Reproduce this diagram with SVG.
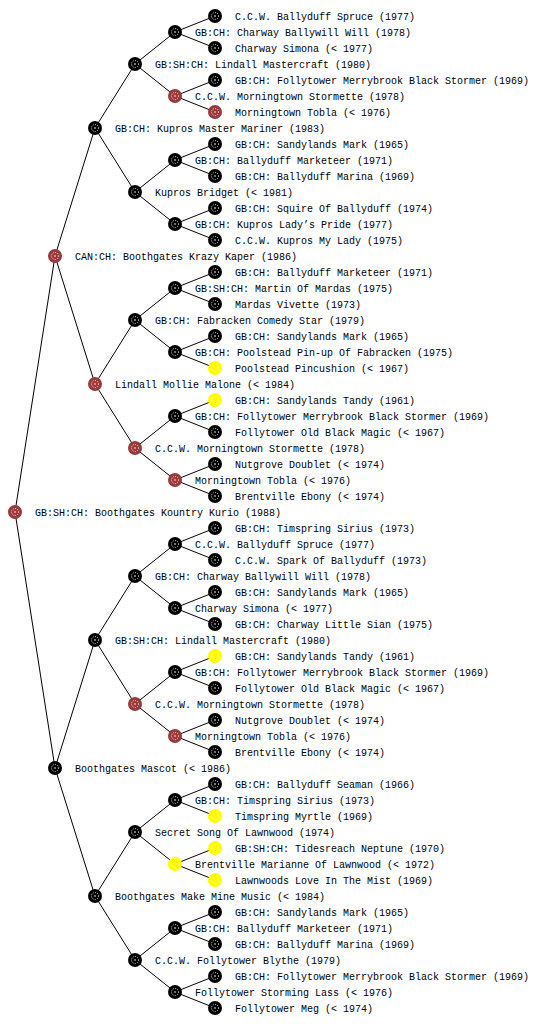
<svg xmlns="http://www.w3.org/2000/svg" xmlns:xlink="http://www.w3.org/1999/xlink" width="560" height="1024" viewBox="0 0 560 1024">
<style>
text{font-family:"Liberation Mono","DejaVu Sans Mono",monospace;font-size:10px;fill:#000}
.e{fill:none;stroke:#000;stroke-width:1}
.ring{fill:none;stroke:#fff;stroke-width:1;stroke-dasharray:1 1.3;opacity:.85}
.ringy{fill:none;stroke:#fff;stroke-width:1;stroke-dasharray:1 1.3;opacity:.6}
</style>
<defs>
<g id="nk"><circle r="7" fill="#000"/><circle r="3.5" class="ring"/><circle r="0.8" fill="#fff"/></g>
<g id="nr"><circle r="7" fill="#9a3a3a"/><circle r="3.5" class="ring"/><circle r="0.8" fill="#fff"/></g>
<g id="ny"><circle r="7" fill="#ffff00"/><circle r="3.5" class="ringy"/></g>
</defs>
<rect width="560" height="1024" fill="#fff"/>
<g id="connectors">
<path class="e" d="M55 256L15 512L55 768"/>
<path class="e" d="M95 128L55 256L95 384"/>
<path class="e" d="M95 640L55 768L95 896"/>
<path class="e" d="M135 64L95 128L135 192"/>
<path class="e" d="M135 320L95 384L135 448"/>
<path class="e" d="M135 576L95 640L135 704"/>
<path class="e" d="M135 832L95 896L135 960"/>
<path class="e" d="M175 32L135 64L175 96"/>
<path class="e" d="M175 160L135 192L175 224"/>
<path class="e" d="M175 288L135 320L175 352"/>
<path class="e" d="M175 416L135 448L175 480"/>
<path class="e" d="M175 544L135 576L175 608"/>
<path class="e" d="M175 672L135 704L175 736"/>
<path class="e" d="M175 800L135 832L175 864"/>
<path class="e" d="M175 928L135 960L175 992"/>
<path class="e" d="M215 16L175 32L215 48"/>
<path class="e" d="M215 80L175 96L215 112"/>
<path class="e" d="M215 144L175 160L215 176"/>
<path class="e" d="M215 208L175 224L215 240"/>
<path class="e" d="M215 272L175 288L215 304"/>
<path class="e" d="M215 336L175 352L215 368"/>
<path class="e" d="M215 400L175 416L215 432"/>
<path class="e" d="M215 464L175 480L215 496"/>
<path class="e" d="M215 528L175 544L215 560"/>
<path class="e" d="M215 592L175 608L215 624"/>
<path class="e" d="M215 656L175 672L215 688"/>
<path class="e" d="M215 720L175 736L215 752"/>
<path class="e" d="M215 784L175 800L215 816"/>
<path class="e" d="M215 848L175 864L215 880"/>
<path class="e" d="M215 912L175 928L215 944"/>
<path class="e" d="M215 976L175 992L215 1008"/>
</g>
<g id="r0"><use xlink:href="#nk" x="215" y="16"/><text x="235" y="20">C.C.W. Ballyduff Spruce (1977)</text></g>
<g id="r1"><use xlink:href="#nk" x="175" y="32"/><text x="195" y="36">GB:CH: Charway Ballywill Will (1978)</text></g>
<g id="r2"><use xlink:href="#nk" x="215" y="48"/><text x="235" y="52">Charway Simona (&lt; 1977)</text></g>
<g id="r3"><use xlink:href="#nk" x="135" y="64"/><text x="155" y="68">GB:SH:CH: Lindall Mastercraft (1980)</text></g>
<g id="r4"><use xlink:href="#nk" x="215" y="80"/><text x="235" y="84">GB:CH: Follytower Merrybrook Black Stormer (1969)</text></g>
<g id="r5"><use xlink:href="#nr" x="175" y="96"/><text x="195" y="100">C.C.W. Morningtown Stormette (1978)</text></g>
<g id="r6"><use xlink:href="#nr" x="215" y="112"/><text x="235" y="116">Morningtown Tobla (&lt; 1976)</text></g>
<g id="r7"><use xlink:href="#nk" x="95" y="128"/><text x="115" y="132">GB:CH: Kupros Master Mariner (1983)</text></g>
<g id="r8"><use xlink:href="#nk" x="215" y="144"/><text x="235" y="148">GB:CH: Sandylands Mark (1965)</text></g>
<g id="r9"><use xlink:href="#nk" x="175" y="160"/><text x="195" y="164">GB:CH: Ballyduff Marketeer (1971)</text></g>
<g id="r10"><use xlink:href="#nk" x="215" y="176"/><text x="235" y="180">GB:CH: Ballyduff Marina (1969)</text></g>
<g id="r11"><use xlink:href="#nk" x="135" y="192"/><text x="155" y="196">Kupros Bridget (&lt; 1981)</text></g>
<g id="r12"><use xlink:href="#nk" x="215" y="208"/><text x="235" y="212">GB:CH: Squire Of Ballyduff (1974)</text></g>
<g id="r13"><use xlink:href="#nk" x="175" y="224"/><text x="195" y="228">GB:CH: Kupros Lady’s Pride (1977)</text></g>
<g id="r14"><use xlink:href="#nk" x="215" y="240"/><text x="235" y="244">C.C.W. Kupros My Lady (1975)</text></g>
<g id="r15"><use xlink:href="#nr" x="55" y="256"/><text x="75" y="260">CAN:CH: Boothgates Krazy Kaper (1986)</text></g>
<g id="r16"><use xlink:href="#nk" x="215" y="272"/><text x="235" y="276">GB:CH: Ballyduff Marketeer (1971)</text></g>
<g id="r17"><use xlink:href="#nk" x="175" y="288"/><text x="195" y="292">GB:SH:CH: Martin Of Mardas (1975)</text></g>
<g id="r18"><use xlink:href="#nk" x="215" y="304"/><text x="235" y="308">Mardas Vivette (1973)</text></g>
<g id="r19"><use xlink:href="#nk" x="135" y="320"/><text x="155" y="324">GB:CH: Fabracken Comedy Star (1979)</text></g>
<g id="r20"><use xlink:href="#nk" x="215" y="336"/><text x="235" y="340">GB:CH: Sandylands Mark (1965)</text></g>
<g id="r21"><use xlink:href="#nk" x="175" y="352"/><text x="195" y="356">GB:CH: Poolstead Pin-up Of Fabracken (1975)</text></g>
<g id="r22"><use xlink:href="#ny" x="215" y="368"/><text x="235" y="372">Poolstead Pincushion (&lt; 1967)</text></g>
<g id="r23"><use xlink:href="#nr" x="95" y="384"/><text x="115" y="388">Lindall Mollie Malone (&lt; 1984)</text></g>
<g id="r24"><use xlink:href="#ny" x="215" y="400"/><text x="235" y="404">GB:CH: Sandylands Tandy (1961)</text></g>
<g id="r25"><use xlink:href="#nk" x="175" y="416"/><text x="195" y="420">GB:CH: Follytower Merrybrook Black Stormer (1969)</text></g>
<g id="r26"><use xlink:href="#nk" x="215" y="432"/><text x="235" y="436">Follytower Old Black Magic (&lt; 1967)</text></g>
<g id="r27"><use xlink:href="#nr" x="135" y="448"/><text x="155" y="452">C.C.W. Morningtown Stormette (1978)</text></g>
<g id="r28"><use xlink:href="#nk" x="215" y="464"/><text x="235" y="468">Nutgrove Doublet (&lt; 1974)</text></g>
<g id="r29"><use xlink:href="#nr" x="175" y="480"/><text x="195" y="484">Morningtown Tobla (&lt; 1976)</text></g>
<g id="r30"><use xlink:href="#nk" x="215" y="496"/><text x="235" y="500">Brentville Ebony (&lt; 1974)</text></g>
<g id="r31"><use xlink:href="#nr" x="15" y="512"/><text x="35" y="516">GB:SH:CH: Boothgates Kountry Kurio (1988)</text></g>
<g id="r32"><use xlink:href="#nk" x="215" y="528"/><text x="235" y="532">GB:CH: Timspring Sirius (1973)</text></g>
<g id="r33"><use xlink:href="#nk" x="175" y="544"/><text x="195" y="548">C.C.W. Ballyduff Spruce (1977)</text></g>
<g id="r34"><use xlink:href="#nk" x="215" y="560"/><text x="235" y="564">C.C.W. Spark Of Ballyduff (1973)</text></g>
<g id="r35"><use xlink:href="#nk" x="135" y="576"/><text x="155" y="580">GB:CH: Charway Ballywill Will (1978)</text></g>
<g id="r36"><use xlink:href="#nk" x="215" y="592"/><text x="235" y="596">GB:CH: Sandylands Mark (1965)</text></g>
<g id="r37"><use xlink:href="#nk" x="175" y="608"/><text x="195" y="612">Charway Simona (&lt; 1977)</text></g>
<g id="r38"><use xlink:href="#nk" x="215" y="624"/><text x="235" y="628">GB:CH: Charway Little Sian (1975)</text></g>
<g id="r39"><use xlink:href="#nk" x="95" y="640"/><text x="115" y="644">GB:SH:CH: Lindall Mastercraft (1980)</text></g>
<g id="r40"><use xlink:href="#ny" x="215" y="656"/><text x="235" y="660">GB:CH: Sandylands Tandy (1961)</text></g>
<g id="r41"><use xlink:href="#nk" x="175" y="672"/><text x="195" y="676">GB:CH: Follytower Merrybrook Black Stormer (1969)</text></g>
<g id="r42"><use xlink:href="#nk" x="215" y="688"/><text x="235" y="692">Follytower Old Black Magic (&lt; 1967)</text></g>
<g id="r43"><use xlink:href="#nr" x="135" y="704"/><text x="155" y="708">C.C.W. Morningtown Stormette (1978)</text></g>
<g id="r44"><use xlink:href="#nk" x="215" y="720"/><text x="235" y="724">Nutgrove Doublet (&lt; 1974)</text></g>
<g id="r45"><use xlink:href="#nr" x="175" y="736"/><text x="195" y="740">Morningtown Tobla (&lt; 1976)</text></g>
<g id="r46"><use xlink:href="#nk" x="215" y="752"/><text x="235" y="756">Brentville Ebony (&lt; 1974)</text></g>
<g id="r47"><use xlink:href="#nk" x="55" y="768"/><text x="75" y="772">Boothgates Mascot (&lt; 1986)</text></g>
<g id="r48"><use xlink:href="#nk" x="215" y="784"/><text x="235" y="788">GB:CH: Ballyduff Seaman (1966)</text></g>
<g id="r49"><use xlink:href="#nk" x="175" y="800"/><text x="195" y="804">GB:CH: Timspring Sirius (1973)</text></g>
<g id="r50"><use xlink:href="#ny" x="215" y="816"/><text x="235" y="820">Timspring Myrtle (1969)</text></g>
<g id="r51"><use xlink:href="#nk" x="135" y="832"/><text x="155" y="836">Secret Song Of Lawnwood (1974)</text></g>
<g id="r52"><use xlink:href="#ny" x="215" y="848"/><text x="235" y="852">GB:SH:CH: Tidesreach Neptune (1970)</text></g>
<g id="r53"><use xlink:href="#ny" x="175" y="864"/><text x="195" y="868">Brentville Marianne Of Lawnwood (&lt; 1972)</text></g>
<g id="r54"><use xlink:href="#ny" x="215" y="880"/><text x="235" y="884">Lawnwoods Love In The Mist (1969)</text></g>
<g id="r55"><use xlink:href="#nk" x="95" y="896"/><text x="115" y="900">Boothgates Make Mine Music (&lt; 1984)</text></g>
<g id="r56"><use xlink:href="#nk" x="215" y="912"/><text x="235" y="916">GB:CH: Sandylands Mark (1965)</text></g>
<g id="r57"><use xlink:href="#nk" x="175" y="928"/><text x="195" y="932">GB:CH: Ballyduff Marketeer (1971)</text></g>
<g id="r58"><use xlink:href="#nk" x="215" y="944"/><text x="235" y="948">GB:CH: Ballyduff Marina (1969)</text></g>
<g id="r59"><use xlink:href="#nk" x="135" y="960"/><text x="155" y="964">C.C.W. Follytower Blythe (1979)</text></g>
<g id="r60"><use xlink:href="#nk" x="215" y="976"/><text x="235" y="980">GB:CH: Follytower Merrybrook Black Stormer (1969)</text></g>
<g id="r61"><use xlink:href="#nk" x="175" y="992"/><text x="195" y="996">Follytower Storming Lass (&lt; 1976)</text></g>
<g id="r62"><use xlink:href="#nk" x="215" y="1008"/><text x="235" y="1012">Follytower Meg (&lt; 1974)</text></g>
</svg>
